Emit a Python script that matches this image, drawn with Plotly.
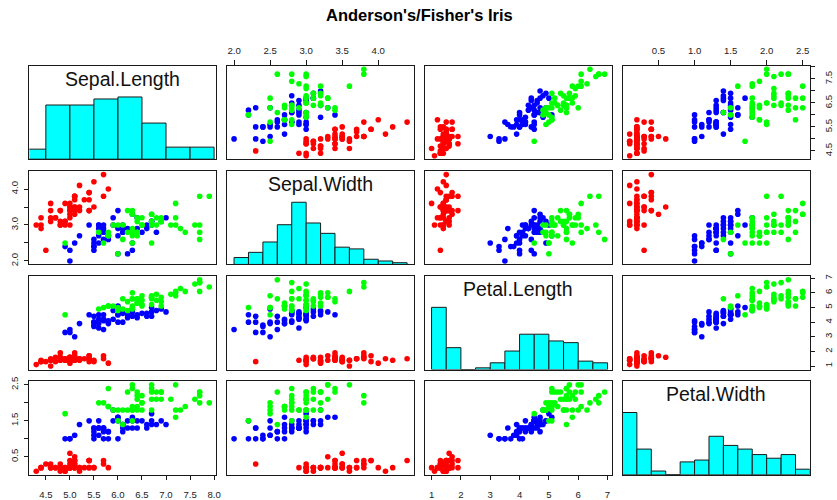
import numpy as np
import plotly.graph_objects as go

# ---------------- data (R iris dataset) ----------------
sepal_length = [
    5.1,4.9,4.7,4.6,5.0,5.4,4.6,5.0,4.4,4.9,5.4,4.8,4.8,4.3,5.8,5.7,5.4,5.1,5.7,5.1,
    5.4,5.1,4.6,5.1,4.8,5.0,5.0,5.2,5.2,4.7,4.8,5.4,5.2,5.5,4.9,5.0,5.5,4.9,4.4,5.1,
    5.0,4.5,4.4,5.0,5.1,4.8,5.1,4.6,5.3,5.0,
    7.0,6.4,6.9,5.5,6.5,5.7,6.3,4.9,6.6,5.2,5.0,5.9,6.0,6.1,5.6,6.7,5.6,5.8,6.2,5.6,
    5.9,6.1,6.3,6.1,6.4,6.6,6.8,6.7,6.0,5.7,5.5,5.5,5.8,6.0,5.4,6.0,6.7,6.3,5.6,5.5,
    5.5,6.1,5.8,5.0,5.6,5.7,5.7,6.2,5.1,5.7,
    6.3,5.8,7.1,6.3,6.5,7.6,4.9,7.3,6.7,7.2,6.5,6.4,6.8,5.7,5.8,6.4,6.5,7.7,7.7,6.0,
    6.9,5.6,7.7,6.3,6.7,7.2,6.2,6.1,6.4,7.2,7.4,7.9,6.4,6.3,6.1,7.7,6.3,6.4,6.0,6.9,
    6.7,6.9,5.8,6.8,6.7,6.7,6.3,6.5,6.2,5.9]
sepal_width = [
    3.5,3.0,3.2,3.1,3.6,3.9,3.4,3.4,2.9,3.1,3.7,3.4,3.0,3.0,4.0,4.4,3.9,3.5,3.8,3.8,
    3.4,3.7,3.6,3.3,3.4,3.0,3.4,3.5,3.4,3.2,3.1,3.4,4.1,4.2,3.1,3.2,3.5,3.6,3.0,3.4,
    3.5,2.3,3.2,3.5,3.8,3.0,3.8,3.2,3.7,3.3,
    3.2,3.2,3.1,2.3,2.8,2.8,3.3,2.4,2.9,2.7,2.0,3.0,2.2,2.9,2.9,3.1,3.0,2.7,2.2,2.5,
    3.2,2.8,2.5,2.8,2.9,3.0,2.8,3.0,2.9,2.6,2.4,2.4,2.7,2.7,3.0,3.4,3.1,2.3,3.0,2.5,
    2.6,3.0,2.6,2.3,2.7,3.0,2.9,2.9,2.5,2.8,
    3.3,2.7,3.0,2.9,3.0,3.0,2.5,2.9,2.5,3.6,3.2,2.7,3.0,2.5,2.8,3.2,3.0,3.8,2.6,2.2,
    3.2,2.8,2.8,2.7,3.3,3.2,2.8,3.0,2.8,3.0,2.8,3.8,2.8,2.8,2.6,3.0,3.4,3.1,3.0,3.1,
    3.1,3.1,2.7,3.2,3.3,3.0,2.5,3.0,3.4,3.0]
petal_length = [
    1.4,1.4,1.3,1.5,1.4,1.7,1.4,1.5,1.4,1.5,1.5,1.6,1.4,1.1,1.2,1.5,1.3,1.4,1.7,1.5,
    1.7,1.5,1.0,1.7,1.9,1.6,1.6,1.5,1.4,1.6,1.6,1.5,1.5,1.4,1.5,1.2,1.3,1.4,1.3,1.5,
    1.3,1.3,1.3,1.6,1.9,1.4,1.6,1.4,1.5,1.4,
    4.7,4.5,4.9,4.0,4.6,4.5,4.7,3.3,4.6,3.9,3.5,4.2,4.0,4.7,3.6,4.4,4.5,4.1,4.5,3.9,
    4.8,4.0,4.9,4.7,4.3,4.4,4.8,5.0,4.5,3.5,3.8,3.7,3.9,5.1,4.5,4.5,4.7,4.4,4.1,4.0,
    4.4,4.6,4.0,3.3,4.2,4.2,4.2,4.3,3.0,4.1,
    6.0,5.1,5.9,5.6,5.8,6.6,4.5,6.3,5.8,6.1,5.1,5.3,5.5,5.0,5.1,5.3,5.5,6.7,6.9,5.0,
    5.7,4.9,6.7,4.9,5.7,6.0,4.8,4.9,5.6,5.8,6.1,6.4,5.6,5.1,5.6,6.1,5.6,5.5,4.8,5.4,
    5.6,5.1,5.1,5.9,5.7,5.2,5.0,5.2,5.4,5.1]
petal_width = [
    0.2,0.2,0.2,0.2,0.2,0.4,0.3,0.2,0.2,0.1,0.2,0.2,0.1,0.1,0.2,0.4,0.4,0.3,0.3,0.3,
    0.2,0.4,0.2,0.5,0.2,0.2,0.4,0.2,0.2,0.2,0.2,0.4,0.1,0.2,0.2,0.2,0.2,0.1,0.2,0.2,
    0.3,0.3,0.2,0.6,0.4,0.3,0.2,0.2,0.2,0.2,
    1.4,1.5,1.5,1.3,1.5,1.3,1.6,1.0,1.3,1.4,1.0,1.5,1.0,1.4,1.3,1.4,1.5,1.0,1.5,1.1,
    1.8,1.3,1.5,1.2,1.3,1.4,1.4,1.7,1.5,1.0,1.1,1.0,1.2,1.6,1.5,1.6,1.5,1.3,1.3,1.3,
    1.2,1.4,1.2,1.0,1.3,1.2,1.3,1.3,1.1,1.3,
    2.5,1.9,2.1,1.8,2.2,2.1,1.7,1.8,1.8,2.5,2.0,1.9,2.1,2.0,2.4,2.3,1.8,2.2,2.3,1.5,
    2.3,2.0,2.0,1.8,2.1,1.8,1.8,1.8,2.1,1.6,1.9,2.0,2.2,1.5,1.4,2.3,2.4,1.8,1.8,2.1,
    2.4,2.3,1.9,2.3,2.5,2.3,1.9,2.0,2.3,1.8]
species = ["setosa"] * 50 + ["versicolor"] * 50 + ["virginica"] * 50

var_names = ["Sepal.Length", "Sepal.Width", "Petal.Length", "Petal.Width"]
species_names = ["setosa", "versicolor", "virginica"]
species_colors = ["#FF0000", "#0000FF", "#00FF00"]

# histogram breaks (R's default Sturges/pretty breaks)
breaks_sl = [4.0, 4.5, 5.0, 5.5, 6.0, 6.5, 7.0, 7.5, 8.0]
breaks_sw = [2.0, 2.2, 2.4, 2.6, 2.8, 3.0, 3.2, 3.4, 3.6, 3.8, 4.0, 4.2, 4.4]
breaks_pl = [1.0, 1.5, 2.0, 2.5, 3.0, 3.5, 4.0, 4.5, 5.0, 5.5, 6.0, 6.5, 7.0]
breaks_pw = [0.0, 0.2, 0.4, 0.6, 0.8, 1.0, 1.2, 1.4, 1.6, 1.8, 2.0, 2.2, 2.4, 2.6]

# tick positions and labels
ticks_sl = [4.5, 5.0, 5.5, 6.0, 6.5, 7.0, 7.5, 8.0]
ticklabels_sl_bottom = ["4.5", "5.0", "5.5", "6.0", "6.5", "7.0", "7.5", "8.0"]
ticklabels_sl_right = ["4.5", "", "5.5", "", "6.5", "", "7.5", ""]
ticks_sw = [2.0, 2.5, 3.0, 3.5, 4.0]
ticklabels_sw_top = ["2.0", "2.5", "3.0", "3.5", "4.0"]
ticklabels_sw_left = ["2.0", "", "3.0", "", "4.0"]
ticks_pl = [1, 2, 3, 4, 5, 6, 7]
ticklabels_pl = ["1", "2", "3", "4", "5", "6", "7"]
ticks_pw = [0.5, 1.0, 1.5, 2.0, 2.5]
ticklabels_pw_top = ["0.5", "1.0", "1.5", "2.0", "2.5"]
ticklabels_pw_left = ["0.5", "", "1.5", "", "2.5"]

title_text = "Anderson's/Fisher's Iris"

# ---------------- helpers ----------------
data = [np.array(sepal_length), np.array(sepal_width),
        np.array(petal_length), np.array(petal_width)]
breaks = [breaks_sl, breaks_sw, breaks_pl, breaks_pw]
sp = np.array(species)


def r_hist(x, b):
    """Right-closed histogram counts (R's hist default, include.lowest)."""
    b = np.asarray(b, float)
    eps = 1e-7
    out = []
    for i in range(len(b) - 1):
        if i == 0:
            m = (x >= b[i] - eps) & (x <= b[i + 1] + eps)
        else:
            m = (x > b[i] + eps) & (x <= b[i + 1] + eps)
        out.append(int(m.sum()))
    return np.array(out, float)


def r_range(x):
    lo, hi = float(np.min(x)), float(np.max(x))
    d = (hi - lo) * 0.04
    return [lo - d, hi + d]


W, H = 837, 500
col_left = [29.5, 228.5, 427.2, 626.5]
col_w = 188.0
row_top = [62.0, 169.2, 276.2, 383.3]
row_h = 95.0

FONT = "Liberation Sans, Arial, Helvetica, sans-serif"
TICKFONT = dict(family=FONT, size=9.6, color="#222222")
LINE = "#1a1a1a"

fig = go.Figure()
layout = dict()
annotations = []

# axis decorations: (row, col) -> (tick values, tick labels)
axis_cfg = {
    "top": {(0, 1): (ticks_sw, ticklabels_sw_top), (0, 3): (ticks_pw, ticklabels_pw_top)},
    "bottom": {(3, 0): (ticks_sl, ticklabels_sl_bottom), (3, 2): (ticks_pl, ticklabels_pl)},
    "left": {(1, 0): (ticks_sw, ticklabels_sw_left), (3, 0): (ticks_pw, ticklabels_pw_left)},
    "right": {(0, 3): (ticks_sl, ticklabels_sl_right), (2, 3): (ticks_pl, ticklabels_pl)},
}

for i in range(4):          # row -> y variable
    for j in range(4):      # col -> x variable
        k = i * 4 + j + 1
        xa = "xaxis" if k == 1 else f"xaxis{k}"
        ya = "yaxis" if k == 1 else f"yaxis{k}"
        xr = "x" if k == 1 else f"x{k}"
        yr = "y" if k == 1 else f"y{k}"

        x0 = col_left[j] / W
        x1 = (col_left[j] + col_w) / W
        y1 = 1 - row_top[i] / H
        y0 = 1 - (row_top[i] + row_h) / H

        xrange_ = r_range(data[j])
        if i == j:
            yrange_ = [0, 1.5]
        else:
            yrange_ = r_range(data[i])

        xdict = dict(domain=[x0, x1], range=xrange_, anchor=yr, showgrid=False,
                     zeroline=False, showline=True, mirror=True, linecolor=LINE,
                     linewidth=1, showticklabels=False, ticks="", fixedrange=True)
        ydict = dict(domain=[y0, y1], range=yrange_, anchor=xr, showgrid=False,
                     zeroline=False, showline=True, mirror=True, linecolor=LINE,
                     linewidth=1, showticklabels=False, ticks="", fixedrange=True)

        if (i, j) in axis_cfg["top"]:
            tv, tt = axis_cfg["top"][(i, j)]
            xdict.update(side="top", ticks="outside", ticklen=4.5, tickwidth=1,
                         tickcolor=LINE, tickvals=tv, ticktext=tt,
                         showticklabels=True, tickfont=TICKFONT, ticklabelstandoff=3)
        if (i, j) in axis_cfg["bottom"]:
            tv, tt = axis_cfg["bottom"][(i, j)]
            xdict.update(side="bottom", ticks="outside", ticklen=4.5, tickwidth=1,
                         tickcolor=LINE, tickvals=tv, ticktext=tt,
                         showticklabels=True, tickfont=TICKFONT, ticklabelstandoff=6)
        if (i, j) in axis_cfg["left"]:
            tv, tt = axis_cfg["left"][(i, j)]
            ydict.update(side="left", ticks="outside", ticklen=4.5, tickwidth=1,
                         tickcolor=LINE, tickvals=tv, ticktext=tt, tickangle=-90,
                         showticklabels=True, tickfont=TICKFONT, ticklabelstandoff=2)
        if (i, j) in axis_cfg["right"]:
            tv, tt = axis_cfg["right"][(i, j)]
            ydict.update(side="right", ticks="outside", ticklen=4.5, tickwidth=1,
                         tickcolor=LINE, tickvals=tv, ticktext=tt, tickangle=-90,
                         showticklabels=True, tickfont=TICKFONT, ticklabelstandoff=5)

        layout[xa] = xdict
        layout[ya] = ydict

        if i == j:
            b = np.asarray(breaks[j], float)
            counts = r_hist(data[j], b)
            heights = counts / counts.max()
            mids = (b[:-1] + b[1:]) / 2
            widths = np.diff(b)
            fig.add_trace(go.Bar(
                x=mids, y=heights, width=widths, xaxis=xr, yaxis=yr,
                marker=dict(color="#00FFFF", line=dict(color=LINE, width=1)),
                showlegend=False, hoverinfo="skip"))
            annotations.append(dict(
                x=(xrange_[0] + xrange_[1]) / 2, y=1.5 * (0.5 + 1 / 3),
                xref=xr, yref=yr, text=var_names[j], showarrow=False,
                font=dict(family=FONT, size=19.5, color="#111111"),
                xanchor="center", yanchor="middle", yshift=2.5))
        else:
            for s_name, s_col in zip(species_names, species_colors):
                m = sp == s_name
                fig.add_trace(go.Scatter(
                    x=data[j][m], y=data[i][m], mode="markers", xaxis=xr, yaxis=yr,
                    marker=dict(color=s_col, size=5.6, line=dict(width=0)),
                    showlegend=False, hoverinfo="skip", cliponaxis=False))

annotations.append(dict(
    x=422.5 / W, y=1 - 10.5 / H, xref="paper", yref="paper", text="<b>" + title_text + "</b>",
    showarrow=False, font=dict(family=FONT, size=16.5, color="#000000"),
    xanchor="center", yanchor="middle"))

layout.update(
    width=W, height=H, autosize=False,
    margin=dict(l=0, r=0, t=0, b=0, pad=0),
    paper_bgcolor="white", plot_bgcolor="white",
    showlegend=False, bargap=0, barmode="overlay",
    annotations=annotations,
)
fig.update_layout(**layout)
fig.write_html(
    "out.html",
    config={"displayModeBar": False, "staticPlot": True},
    post_script="document.body.style.margin='0';document.body.style.padding='0';"
                "document.documentElement.style.overflow='hidden';",
)
